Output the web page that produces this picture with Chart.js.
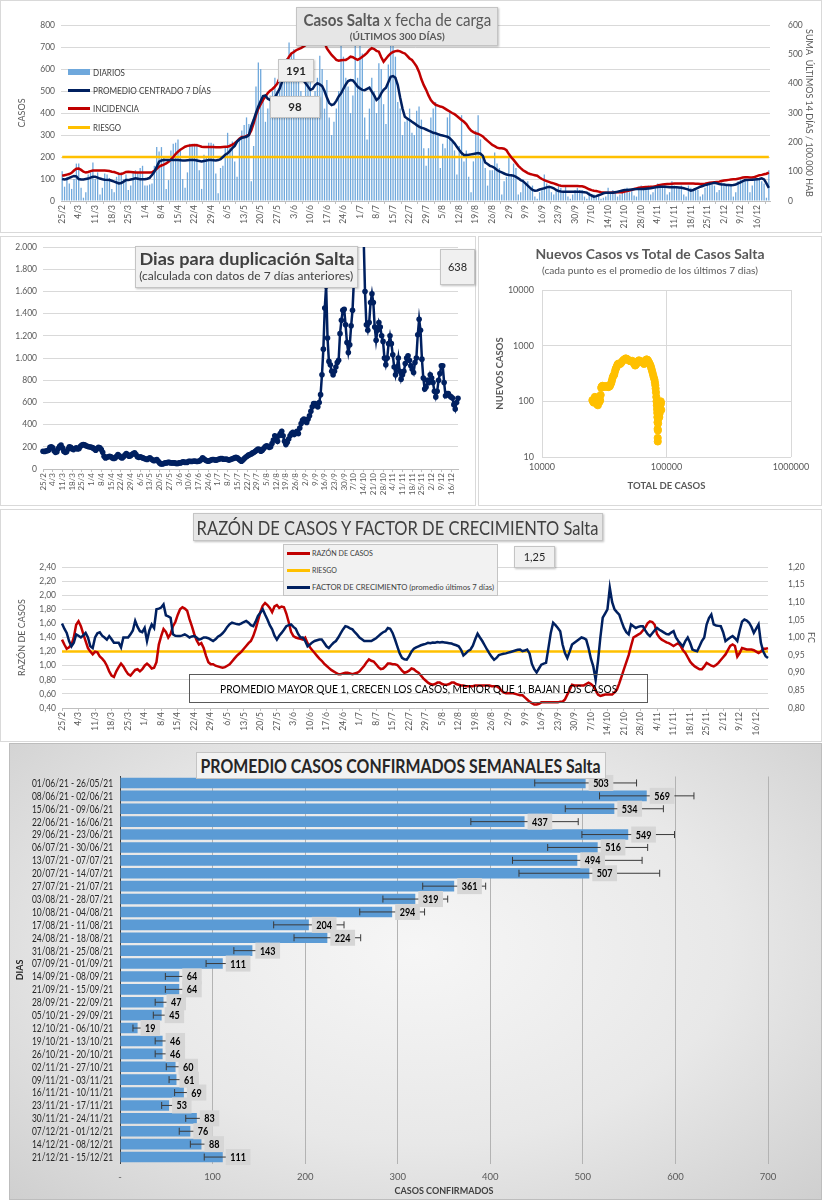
<!DOCTYPE html>
<html lang="es">
<head>
<meta charset="utf-8">
<title>Casos Salta</title>
<script src="https://cdn.jsdelivr.net/npm/chart.js@4.4.1/dist/chart.umd.min.js"></script>
<style>
  body { margin:0; width:822px; height:1200px; position:relative; overflow:hidden; background:#fff;
         font-family: Lato, 'Open Sans', sans-serif; color:#404040; }
  canvas, .marco, .caja, .fila, .nota { position:absolute; }
  .marco { box-sizing:border-box; border:1px solid #d9d9d9; }
  .caja { box-sizing:border-box; background:#eeeeee; border:1px solid #c4c4c4; box-shadow:1px 1px 2px rgba(0,0,0,.25);
          text-align:center; white-space:nowrap; }
  .centro { display:flex; justify-content:center; }
  .fit { display:inline-block; white-space:nowrap; transform-origin:center center; flex:none; }
  .fila { display:flex; align-items:center; height:12px; white-space:nowrap; }
  .fila .fit { transform-origin:left center; }
  .sim { display:inline-block; margin-right:3px; flex:none; }
  .nota { box-sizing:border-box; border:1px solid #595959; }
</style>
</head>
<body>

<div class="marco" style="left:0;top:0;width:822px;height:233px"></div>
<div class="marco" style="left:0;top:236px;width:476px;height:270px"></div>
<div class="marco" style="left:478px;top:236px;width:344px;height:270px"></div>
<div class="marco" style="left:0;top:509px;width:822px;height:233px"></div>
<div class="marco" style="left:9px;top:743px;width:813px;height:457px;border-color:#bdbdbd;
     background:radial-gradient(ellipse at 50% 45%, #f6f6f6 0%, #e8e8e8 55%, #cfcfcf 100%)"></div>

<canvas id="g1" style="left:0;top:0" width="822" height="233"></canvas>
<canvas id="g2" style="left:0;top:236px" width="476" height="270"></canvas>
<canvas id="g3" style="left:478px;top:236px" width="344" height="270"></canvas>
<canvas id="g4" style="left:0;top:509px" width="822" height="233"></canvas>
<canvas id="g5" style="left:0;top:742px" width="822" height="458"></canvas>

<!-- panel 1 -->
<div class="caja" style="left:296px;top:7px;width:202px;height:39px;background:#e6e6e6;color:#595959">
  <div class="centro" style="font-size:17px;line-height:21px;margin-top:1px"><span class="fit" data-w="188"><b>Casos Salta</b> x fecha de carga</span></div>
  <div class="centro" style="font-size:10px;line-height:12px;font-weight:bold"><span class="fit" data-w="95">(ÚLTIMOS 300 DÍAS)</span></div>
</div>
<div class="fila" style="left:68px;top:66px;font-size:9px"><span class="sim" style="width:22px;height:6px;background:#6FA8DC"></span><span class="fit" data-w="32">DIARIOS</span></div>
<div class="fila" style="left:68px;top:84px;font-size:9px"><span class="sim" style="width:22px;height:3px;background:#002060"></span><span class="fit" data-w="118">PROMEDIO CENTRADO 7 DÍAS</span></div>
<div class="fila" style="left:68px;top:102px;font-size:9px"><span class="sim" style="width:22px;height:3px;background:#C00000"></span><span class="fit" data-w="46">INCIDENCIA</span></div>
<div class="fila" style="left:68px;top:121px;font-size:9px"><span class="sim" style="width:22px;height:3px;background:#FFC000"></span><span class="fit" data-w="28">RIESGO</span></div>
<div class="caja" style="left:278px;top:59px;width:36px;height:23px;background:#f0f0f0;font-size:11.5px;line-height:21px;font-weight:bold;color:#262626">191</div>
<div class="caja" style="left:270px;top:96px;width:50px;height:22px;background:#f0f0f0;font-size:11.5px;line-height:20px;font-weight:bold;color:#262626">98</div>

<!-- panel 2 -->
<div class="caja" style="left:135px;top:246px;width:223px;height:42px;background:#f0f0f0">
  <div class="centro" style="font-size:17px;line-height:21px;font-weight:bold;margin-top:1px"><span class="fit" data-w="215">Dias para duplicación Salta</span></div>
  <div class="centro" style="font-size:11px;line-height:14px"><span class="fit" data-w="214">(calculada con datos de 7 días anteriores)</span></div>
</div>
<div class="caja" style="left:440px;top:249px;width:35px;height:36px;background:#f0f0f0;font-size:11px;line-height:34px;color:#262626">638</div>

<!-- panel 3 -->
<div style="position:absolute;left:478px;top:245px;width:344px;color:#595959">
  <div class="centro" style="font-size:14px;line-height:18px;font-weight:bold"><span class="fit" data-w="229">Nuevos Casos vs Total de Casos Salta</span></div>
  <div class="centro" style="font-size:10px;line-height:14px"><span class="fit" data-w="216">(cada punto es el promedio de los últimos 7 dias)</span></div>
</div>

<!-- panel 4 -->
<div class="caja" style="left:193px;top:513px;width:410px;height:28px;background:#e6e6e6;color:#404040">
  <div class="centro" style="font-size:20px;line-height:26px"><span class="fit" data-w="402">RAZÓN DE CASOS Y FACTOR DE CRECIMIENTO Salta</span></div>
</div>
<div class="caja" style="left:283px;top:544px;width:215px;height:52px;background:#f2f2f2;box-shadow:none"></div>
<div class="fila" style="left:287px;top:547px;font-size:8px"><span class="sim" style="width:23px;height:3px;background:#C00000;margin-right:2px"></span><span class="fit" data-w="61">RAZÓN DE CASOS</span></div>
<div class="fila" style="left:287px;top:564px;font-size:8px"><span class="sim" style="width:23px;height:3px;background:#FFC000;margin-right:2px"></span><span class="fit" data-w="25">RIESGO</span></div>
<div class="fila" style="left:287px;top:581px;font-size:8px"><span class="sim" style="width:23px;height:3px;background:#002060;margin-right:2px"></span><span class="fit" data-w="182">FACTOR DE CRECIMIENTO (promedio últimos 7 días)</span></div>
<div class="caja" style="left:514px;top:546px;width:41px;height:22px;background:#f0f0f0;font-size:11px;line-height:20px;color:#262626">1,25</div>
<div class="nota centro" style="left:189px;top:674px;width:459px;height:29px;font-size:11.5px;line-height:27px;color:#000">
  <span class="fit" data-w="397">PROMEDIO MAYOR QUE 1, CRECEN LOS CASOS, MENOR QUE 1, BAJAN LOS CASOS</span>
</div>

<!-- panel 5 -->
<div class="caja" style="left:196px;top:752px;width:410px;height:27px;background:#f2f2f2;color:#262626;box-shadow:none">
  <div class="centro" style="font-size:19px;line-height:25px;font-weight:bold"><span class="fit" data-w="400">PROMEDIO CASOS CONFIRMADOS SEMANALES Salta</span></div>
</div>

<script>
// etiquetas semanales del eje x (25/2 a 16/12)
const semanas = ['25/2','4/3','11/3','18/3','25/3','1/4','8/4','15/4','22/4','29/4','6/5','13/5','20/5','27/5',
  '3/6','10/6','17/6','24/6','1/7','8/7','15/7','22/7','29/7','5/8','12/8','19/8','26/8','2/9','9/9','16/9',
  '23/9','30/9','7/10','14/10','21/10','28/10','4/11','11/11','18/11','25/11','2/12','9/12','16/12'];

// casos diarios (una fila por semana)
const diarios = [
  135,65,110,80,55,100,170,  170,60,15,40,120,130,175,  100,130,30,60,125,120,105,  55,40,110,120,130,100,120,
  50,70,130,140,130,150,160,  70,70,75,80,160,245,225,  245,200,55,95,230,260,265,  280,230,100,60,130,260,260,
  250,260,140,55,210,200,265,  265,260,125,35,150,160,250,  310,260,270,180,110,280,320,  345,380,350,90,250,520,630,
  600,470,360,420,480,500,560,  500,560,620,580,650,720,671,  690,560,620,500,430,560,600,  540,430,500,560,660,600,420,
  550,380,300,360,420,500,709,  656,560,520,400,480,709,560,  709,671,380,280,420,560,500,  400,626,600,440,350,620,717,
  709,656,450,420,300,360,380,  420,310,300,410,430,370,240,  160,240,380,420,450,300,150,  260,240,380,410,270,230,120,
  250,390,180,230,110,40,180,  320,390,280,210,150,70,140,  140,220,170,150,30,90,110,  200,120,170,150,30,40,100,
  80,90,60,70,20,10,40,  60,120,80,60,40,30,50,  70,60,40,70,20,10,30,  50,60,50,50,20,10,40,
  20,30,20,20,10,15,20,  60,40,50,40,20,30,40,  55,60,40,50,25,20,60,  70,50,60,70,30,40,65,
  80,60,70,70,30,40,90,  70,60,60,70,30,20,70,  60,50,50,50,20,30,60,  85,85,75,70,40,50,85,
  80,70,70,70,20,40,90,  100,95,100,90,40,70,100,  95,100,90,80,15,140];

// promedio centrado 7 días
const promedio = [
  100,98,100,105,110,114,112,  100,98,98,100,102,106,110,  110,106,102,99,97,96,95,  92,88,84,80,82,88,95,
  95,98,100,103,101,99,99,  99,101,105,118,133,155,179,  184,186,186,186,186,186,186,  186,185,184,184,185,186,186,
  186,184,182,180,182,184,186,  186,185,184,186,190,200,210,  217,228,240,250,270,280,287,  290,292,300,340,368,400,430,
  455,477,480,465,459,460,470,  490,510,540,570,600,615,620,  615,600,585,565,550,535,520,  505,510,527,535,530,522,500,
  470,445,436,440,455,475,489,  510,530,545,550,548,535,520,  512,505,504,510,515,497,480,  459,468,489,505,515,540,565,
  568,560,527,470,420,383,375,  368,360,353,345,338,333,330,  325,320,315,310,308,304,300,  298,295,292,285,275,262,247,
  232,218,209,209,210,212,214,  216,218,215,205,175,168,160,  156,150,141,135,130,125,120,  118,117,115,110,103,95,90,
  80,70,60,50,47,48,52,  55,58,62,65,62,58,50,  45,43,42,42,42,42,42,  42,42,42,41,40,38,30,
  25,20,22,26,30,35,37,  38,38,38,40,42,45,48,  50,50,51,52,53,54,55,  55,55,56,57,58,60,62,
  64,65,65,65,64,63,62,  62,62,61,60,58,55,52,  47,50,55,60,65,68,72,  75,78,80,83,80,77,75,
  75,73,73,72,73,75,80,  85,90,95,95,96,97,98,  99,100,103,98,80,60];

// incidencia: suma últimos 14 días / 100.000 hab (eje derecho)
const incidencia = [
  86,88,90,92,96,104,110,  111,106,100,97,99,102,104,  104,104,104,104,104,103,102,  100,99,96,93,92,95,99,
  100,99,98,97,97,97,97,  97,97,97,98,103,110,117,  121,124,128,134,141,150,160,  168,175,180,185,188,189,190,
  191,190,188,185,184,184,184,  184,184,183,183,183,184,185,  185,188,192,197,204,212,218,  218,222,225,240,265,293,315,
  330,345,356,368,376,382,390,  400,420,440,460,478,492,503,  508,514,518,521,526,532,540,  555,570,580,585,580,565,540,
  520,509,498,490,481,478,480,  481,481,486,492,490,485,481,  486,492,498,505,515,521,518,  512,509,490,475,485,495,503,
  508,511,512,510,506,503,495,  486,481,470,458,440,415,395,  379,360,344,335,328,325,322,  320,315,310,305,300,296,290,
  283,276,270,262,250,240,235,  231,229,225,220,212,205,198,  191,187,182,180,180,178,173,  160,149,140,130,120,112,105,
  100,95,92,90,88,86,80,  75,71,68,65,62,60,57,  54,52,51,51,51,51,51,  51,51,50,50,48,44,40,
  37,35,34,32,30,29,28,  28,28,29,30,30,30,30,  32,34,36,38,41,43,45,  46,47,48,48,49,49,50,
  53,55,56,57,58,58,59,  60,60,60,60,60,60,60,  60,60,59,59,58,58,59,  61,62,63,64,65,66,68,
  70,71,72,73,74,74,76,  78,80,81,81,80,80,82,  85,88,89,91,93,97];

const riesgoCasos = 200;

// días para duplicación
const duplicacion = [
  160,158,162,165,170,195,200,190,165,150,  155,185,205,215,190,160,150,155,180,200,
  195,180,175,185,190,180,185,205,215,220,  218,210,205,200,198,195,190,180,170,185,
  195,190,175,150,115,100,105,110,115,110,  100,95,100,115,130,120,105,100,110,125,
  140,130,115,120,130,140,145,130,110,105,  110,105,100,95,90,85,95,100,90,80,
  75,80,85,70,55,45,45,50,55,55,  60,60,55,55,55,55,50,50,55,55,
  60,65,60,60,60,70,70,68,70,72,  70,68,70,75,85,100,90,80,75,70,
  75,80,85,85,80,80,85,90,95,95,  88,88,90,85,80,85,90,95,100,105,
  100,90,78,70,80,95,105,115,125,130,  135,145,150,160,170,180,175,160,170,185,
  200,210,205,195,200,230,260,300,280,250,  300,320,340,300,250,220,240,270,300,320,
  330,310,325,340,320,370,410,440,450,430,  420,450,480,520,560,590,590,570,560,600,
  670,850,1080,1450,1650,1180,970,940,880,850,  880,920,960,980,1220,1340,1430,1440,1300,1140,
  1050,1120,1290,1430,1700,2100,2600,3000,2800,2500,  2300,2100,1600,1300,1250,1320,1500,1580,1500,1280,
  1160,1250,1320,1280,1200,1150,1000,940,1000,1130,  1200,1130,1030,920,850,920,1000,880,810,850,
  880,950,1000,1020,980,930,900,870,960,1000,  1210,1350,1250,990,820,720,740,800,780,850,
  820,780,700,650,700,800,860,930,930,780,  660,680,680,660,650,640,580,540,600,638];

// nuevos casos vs total (promedio últimos 7 días)
const totalCasos = [
  25400,25700,26000,26300,26600,26900,27200,27500,27800,28100,28400,28700,29000,29300,29600,29900,
  30200,30600,31000,31500,32000,32500,33000,33500,34000,34500,35000,35500,36000,36500,37000,37500,
  38000,38500,39000,39500,40000,40500,41000,41700,42400,43200,44000,45000,46000,47000,48000,49000,
  50000,51000,52000,53000,54000,55000,56000,57000,58000,59000,60000,61000,62000,63000,64000,65000,
  66000,67000,68000,69000,70000,71000,72000,73000,74000,75000,76000,77000,78000,79000,80000,80700,
  81300,81800,82300,82800,83200,83600,84000,84300,84500,84700,84850,85000,85100,85300,85600,85900,
  86300,86700,87100,87500,87900,88300,88700,89100,89500,89900,90300,90700];
const nuevosCasos = [
  105,100,95,110,120,115,100,92,88,85,95,102,98,105,130,175,
  185,190,185,185,182,185,188,186,180,184,186,200,215,240,270,290,
  300,340,380,400,430,460,475,470,470,490,520,550,570,590,580,560,
  540,530,520,535,510,470,440,460,490,520,545,530,510,505,520,500,
  470,500,540,565,560,540,510,480,450,415,375,335,300,270,245,220,
  195,170,145,120,100,85,72,62,52,42,32,22,19,30,40,48,
  55,62,58,52,60,70,78,85,95,100,92,70];
const ejeTotal = [10000, 100000, 1000000];
const ejeNuevos = [10, 100, 1000, 10000];

// razón de casos (eje izq.) y factor de crecimiento (eje der.)
const razon = [
  1.37,1.30,1.24,1.26,1.30,1.40,1.58,1.63,1.56,1.45,  1.35,1.25,1.20,1.16,1.20,1.19,1.13,1.10,1.06,1.00,
  0.92,0.86,0.84,0.92,0.98,1.03,0.99,0.93,0.88,0.86,  0.90,0.94,0.95,0.92,0.95,1.00,1.03,1.00,0.96,0.97,
  1.05,1.30,1.42,1.52,1.48,1.40,1.45,1.56,1.62,1.72,  1.80,1.83,1.81,1.78,1.66,1.56,1.45,1.36,1.30,1.32,
  1.25,1.14,1.05,1.02,1.02,1.00,0.99,0.98,0.97,0.98,  1.00,1.02,1.06,1.10,1.14,1.17,1.20,1.24,1.28,1.32,
  1.35,1.42,1.52,1.64,1.76,1.85,1.89,1.86,1.82,1.76,  1.84,1.86,1.82,1.84,1.83,1.74,1.62,1.48,1.42,1.40,
  1.39,1.38,1.37,1.40,1.32,1.26,1.22,1.18,1.14,1.10,  1.07,1.03,1.00,0.97,0.94,0.92,0.90,0.88,0.88,0.89,
  0.90,0.90,0.89,0.88,0.89,0.90,0.92,0.96,1.00,1.05,  1.09,1.07,1.06,1.02,0.98,0.95,0.96,0.99,1.03,1.03,
  1.02,1.02,1.01,0.97,0.93,0.90,0.91,0.93,0.96,0.95,  0.92,0.90,0.86,0.82,0.79,0.76,0.74,0.73,0.74,0.76,
  0.76,0.74,0.73,0.73,0.74,0.76,0.76,0.74,0.73,0.72,  0.72,0.71,0.71,0.71,0.71,0.72,0.72,0.72,0.72,0.72,
  0.72,0.72,0.71,0.71,0.71,0.69,0.65,0.62,0.61,0.61,  0.61,0.61,0.60,0.59,0.58,0.58,0.55,0.52,0.49,0.47,
  0.45,0.45,0.46,0.48,0.48,0.48,0.48,0.48,0.48,0.48,  0.48,0.49,0.49,0.52,0.59,0.66,0.73,0.72,0.72,0.72,
  0.72,0.72,0.74,0.76,0.74,0.71,0.65,0.59,0.57,0.58,  0.59,0.59,0.59,0.59,0.62,0.66,0.75,0.85,0.95,1.05,
  1.15,1.28,1.40,1.42,1.44,1.46,1.50,1.54,1.60,1.63,  1.62,1.58,1.45,1.40,1.37,1.35,1.33,1.32,1.30,1.28,
  1.30,1.32,1.28,1.22,1.18,1.12,1.06,1.02,0.99,0.97,  0.95,0.95,0.99,1.04,1.02,1.00,0.99,1.01,1.04,1.08,
  1.12,1.16,1.22,1.28,1.30,1.28,1.13,1.18,1.25,1.24,  1.23,1.23,1.23,1.22,1.20,1.18,1.20,1.24,1.24,1.25];
const factor = [
  1.040,1.025,1.013,0.990,0.975,0.985,1.009,1.005,1.000,1.006,  1.013,1.000,0.975,0.970,1.000,1.012,1.015,1.005,1.000,0.994,
  1.004,0.995,0.985,0.985,0.985,0.972,1.000,1.000,1.000,1.009,  1.020,1.047,1.030,1.018,1.015,1.027,0.990,1.020,1.037,1.027,
  1.080,1.082,1.085,1.094,1.063,1.060,1.056,1.009,1.005,1.004,  1.004,1.006,1.009,1.005,1.000,1.003,1.004,1.000,0.994,0.996,
  1.000,1.000,0.998,0.994,0.990,0.995,1.002,1.006,1.012,1.020,  1.030,1.038,1.042,1.040,1.038,1.037,1.040,1.044,1.047,1.042,
  1.035,1.032,1.045,1.061,1.070,1.080,1.065,1.051,1.035,1.023,  1.005,0.994,1.005,1.013,1.022,1.032,1.035,1.037,1.030,1.025,
  1.010,1.000,1.000,0.990,0.975,0.980,0.986,0.990,0.992,0.994,  0.994,0.985,0.975,0.970,0.978,0.985,0.990,1.000,1.012,1.023,
  1.032,1.030,1.026,1.023,1.015,1.008,1.000,0.995,0.990,0.990,  0.990,0.990,0.994,0.998,1.004,1.010,1.015,1.018,1.027,1.025,
  1.013,0.995,0.975,0.955,0.942,0.938,0.937,0.947,0.960,0.968,  0.972,0.975,0.978,0.980,0.982,0.985,0.984,0.986,0.985,0.987,
  0.986,0.987,0.986,0.985,0.984,0.983,0.980,0.978,0.975,0.965,  0.949,0.955,0.962,0.966,0.977,0.995,1.011,1.000,0.990,0.978,
  0.966,0.955,0.945,0.937,0.942,0.950,0.952,0.954,0.955,0.957,  0.959,0.961,0.963,0.965,0.966,0.961,0.963,0.966,0.955,0.925,
  0.910,0.901,0.912,0.923,0.926,0.928,0.970,1.013,1.042,1.035,  1.027,1.018,0.980,0.956,0.942,0.960,0.980,0.985,0.990,0.995,
  1.000,0.998,0.994,0.970,0.940,0.918,0.880,0.933,1.000,1.056,  1.068,1.080,1.141,1.100,1.080,1.072,1.065,1.045,1.027,1.015,
  1.009,1.037,1.032,1.027,1.030,1.032,1.032,1.020,1.010,1.004,  1.012,1.020,1.027,1.022,1.018,1.014,1.010,1.009,1.014,1.018,
  1.000,0.990,0.982,0.975,0.990,1.000,0.985,0.966,0.963,0.961,  0.975,0.990,1.000,1.037,1.055,1.065,1.037,1.034,1.033,1.032,
  1.015,0.990,0.995,1.000,1.004,0.998,0.990,1.020,1.045,1.051,  1.048,1.042,1.030,1.013,1.025,1.037,0.985,0.960,0.947,0.942];
const riesgoRazon = 1.2;

// promedio semanal de casos confirmados
const rangos = ['01/06/21 - 26/05/21','08/06/21 - 02/06/21','15/06/21 - 09/06/21','22/06/21 - 16/06/21',
  '29/06/21 - 23/06/21','06/07/21 - 30/06/21','13/07/21 - 07/07/21','20/07/21 - 14/07/21','27/07/21 - 21/07/21',
  '03/08/21 - 28/07/21','10/08/21 - 04/08/21','17/08/21 - 11/08/21','24/08/21 - 18/08/21','31/08/21 - 25/08/21',
  '07/09/21 - 01/09/21','14/09/21 - 08/09/21','21/09/21 - 15/09/21','28/09/21 - 22/09/21','05/10/21 - 29/09/21',
  '12/10/21 - 06/10/21','19/10/21 - 13/10/21','26/10/21 - 20/10/21','02/11/21 - 27/10/21','09/11/21 - 03/11/21',
  '16/11/21 - 10/11/21','23/11/21 - 17/11/21','30/11/21 - 24/11/21','07/12/21 - 01/12/21','14/12/21 - 08/12/21',
  '21/12/21 - 15/12/21'];
const promedioSemanal = [503,569,534,437,549,516,494,507,361,319,294,204,224,143,111,64,64,47,45,19,46,46,60,61,69,53,83,76,88,111];
const errorSemanal = [55,51,53,58,50,54,70,76,34,35,35,38,36,20,18,15,15,9,9,5,8,8,10,8,10,8,12,12,12,20];

const LATO = 'Lato, "Open Sans", sans-serif';
Chart.defaults.font.family = LATO;
Chart.defaults.color = '#595959';
Chart.defaults.animation = false;
Chart.defaults.plugins.legend.display = false;
Chart.defaults.plugins.tooltip.enabled = false;

const ancho = w => s => { s.width = w; };
const alto = h => s => { s.height = h; };
const coma = v => v.toFixed(2).replace('.', ',');
const miles = v => String(v).replace(/\B(?=(\d{3})+(?!\d))/g, '.');

function ejeSemanas(h, size) {
  return {
    type: 'category',
    afterFit: alto(h),
    grid: { drawOnChartArea: false, color: '#bfbfbf', tickLength: 3 },
    border: { color: '#bfbfbf' },
    ticks: { autoSkip: false, minRotation: 90, maxRotation: 90, padding: 1, font: { size },
             callback: (v, i) => i % 7 === 0 ? semanas[i / 7] : null }
  };
}

// --- Casos Salta x fecha de carga
new Chart(document.getElementById('g1'), {
  data: {
    labels: diarios.map((_, i) => i),
    datasets: [
      { type: 'line', data: promedio, borderColor: '#002060', borderWidth: 2.5, pointRadius: 0, yAxisID: 'y', order: 1 },
      { type: 'line', data: incidencia, borderColor: '#C00000', borderWidth: 2.5, pointRadius: 0, yAxisID: 'y2', order: 2 },
      { type: 'line', data: diarios.map(() => riesgoCasos), borderColor: '#FFC000', borderWidth: 2.5, pointRadius: 0, yAxisID: 'y', order: 3 },
      { type: 'bar', data: diarios, backgroundColor: '#6FA8DC', barPercentage: 0.55, categoryPercentage: 1, yAxisID: 'y', order: 4 }
    ]
  },
  options: {
    responsive: false,
    layout: { padding: { top: 25 } },
    scales: {
      x: ejeSemanas(32, 8.5),
      y: { position: 'left', min: 0, max: 800, afterFit: ancho(61),
           ticks: { stepSize: 100, padding: 6, font: { size: 8.5 } },
           grid: { color: '#d9d9d9', drawTicks: false }, border: { display: false },
           title: { display: true, text: 'CASOS', font: { size: 9 }, padding: { top: 17 } } },
      y2: { position: 'right', min: 0, max: 600, afterFit: ancho(52),
            ticks: { stepSize: 100, padding: 10, font: { size: 8.5 } },
            grid: { display: false }, border: { display: false },
            title: { display: true, text: 'SUMA  ÚLTIMOS 14 DÍAS / 100.000 HAB', font: { size: 9 }, padding: { top: 8 } } }
    }
  }
});

// --- Dias para duplicación
new Chart(document.getElementById('g2'), {
  type: 'line',
  data: {
    labels: duplicacion.map((_, i) => i),
    datasets: [{ data: duplicacion, borderColor: '#002060', backgroundColor: '#002060', borderWidth: 2.5,
                 pointRadius: 2.8, pointBorderWidth: 0 }]
  },
  options: {
    responsive: false,
    layout: { padding: { top: 11, right: 18 } },
    scales: {
      x: ejeSemanas(37, 8),
      y: { min: 0, max: 2000, afterFit: ancho(43),
           ticks: { stepSize: 200, padding: 6, font: { size: 8.5 }, callback: miles },
           grid: { color: '#d9d9d9', drawTicks: false }, border: { display: false } }
    }
  }
});

// --- Nuevos casos vs total
new Chart(document.getElementById('g3'), {
  type: 'scatter',
  data: {
    datasets: [{ data: totalCasos.map((t, i) => ({ x: t, y: nuevosCasos[i] })),
                 backgroundColor: '#FFC000', borderColor: '#FFC000', pointRadius: 3.6 }]
  },
  options: {
    responsive: false,
    layout: { padding: { top: 54, right: 31 } },
    scales: {
      x: { type: 'logarithmic', min: 10000, max: 1000000, afterFit: alto(49),
           afterBuildTicks: s => { s.ticks = ejeTotal.map(v => ({ value: v })); },
           ticks: { padding: 5, font: { size: 9 }, callback: v => String(v) },
           grid: { color: '#d9d9d9', drawTicks: false }, border: { display: false },
           title: { display: true, text: 'TOTAL DE CASOS', font: { size: 9.5, weight: 'bold' }, padding: { bottom: 14 } } },
      y: { type: 'logarithmic', min: 10, max: 10000, afterFit: ancho(64),
           afterBuildTicks: s => { s.ticks = ejeNuevos.map(v => ({ value: v })); },
           ticks: { padding: 8, font: { size: 9 }, callback: v => String(v) },
           grid: { color: '#d9d9d9', drawTicks: false }, border: { display: false },
           title: { display: true, text: 'NUEVOS CASOS', font: { size: 9.5, weight: 'bold' }, padding: { top: 16 } } }
    }
  }
});

// --- Razón de casos y factor de crecimiento
new Chart(document.getElementById('g4'), {
  type: 'line',
  data: {
    labels: razon.map((_, i) => i),
    datasets: [
      { data: factor, borderColor: '#002060', borderWidth: 2.5, pointRadius: 0, yAxisID: 'y2', order: 1 },
      { data: razon, borderColor: '#C00000', borderWidth: 2.5, pointRadius: 0, yAxisID: 'y', order: 2 },
      { data: razon.map(() => riesgoRazon), borderColor: '#FFC000', borderWidth: 2.5, pointRadius: 0, yAxisID: 'y', order: 3 }
    ]
  },
  options: {
    responsive: false,
    layout: { padding: { top: 58 } },
    scales: {
      x: ejeSemanas(34, 8.5),
      y: { position: 'left', min: 0.4, max: 2.4, afterFit: ancho(62),
           ticks: { stepSize: 0.2, padding: 6, font: { size: 8.5 }, callback: coma },
           grid: { color: '#d9d9d9', drawTicks: false }, border: { display: false },
           title: { display: true, text: 'RAZÓN DE CASOS', font: { size: 9 }, padding: { top: 17 } } },
      y2: { position: 'right', min: 0.8, max: 1.2, afterFit: ancho(54),
            ticks: { stepSize: 0.05, padding: 12, font: { size: 8.5 }, callback: coma },
            grid: { display: false }, border: { display: false },
            title: { display: true, text: 'FC', font: { size: 9 }, padding: { top: 6 } } }
    }
  }
});

// --- Promedio casos confirmados semanales
// etiquetas de categoría estrechas, barras de error y rótulos de valor
const barrasError = {
  id: 'barrasError',
  afterDatasetsDraw(chart) {
    const { ctx, scales: { x, y } } = chart;
    const meta = chart.getDatasetMeta(0);
    ctx.save();
    ctx.textBaseline = 'middle';
    ctx.font = '10.5px ' + LATO;
    ctx.fillStyle = '#262626';
    ctx.textAlign = 'right';
    rangos.forEach((r, i) => {
      ctx.save();
      ctx.translate(y.right - 7, y.getPixelForValue(i) + 0.5);
      ctx.scale(0.8, 1);
      ctx.fillText(r, 0, 0);
      ctx.restore();
    });
    ctx.font = 'bold 11px ' + LATO;
    ctx.textAlign = 'center';
    meta.data.forEach((bar, i) => {
      const v = promedioSemanal[i], e = errorSemanal[i], yy = bar.y;
      const x1 = x.getPixelForValue(v - e), x2 = x.getPixelForValue(v + e);
      ctx.strokeStyle = '#3a3a3a';
      ctx.lineWidth = 1;
      ctx.beginPath();
      ctx.moveTo(x1, yy); ctx.lineTo(x2, yy);
      ctx.moveTo(x1, yy - 3.5); ctx.lineTo(x1, yy + 3.5);
      ctx.moveTo(x2, yy - 3.5); ctx.lineTo(x2, yy + 3.5);
      ctx.stroke();
      const txt = String(v);
      const w = ctx.measureText(txt).width * 0.82 + 9;
      ctx.fillStyle = '#d6d6d6';
      ctx.fillRect(bar.x + 3, yy - 8, w, 16);
      ctx.fillStyle = '#000';
      ctx.save();
      ctx.translate(bar.x + 3 + w / 2, yy + 0.5);
      ctx.scale(0.82, 1);
      ctx.fillText(txt, 0, 0);
      ctx.restore();
    });
    ctx.restore();
  }
};

new Chart(document.getElementById('g5'), {
  type: 'bar',
  data: {
    labels: rangos,
    datasets: [{ data: promedioSemanal, backgroundColor: '#5B9BD5', barPercentage: 0.82, categoryPercentage: 1 }]
  },
  options: {
    responsive: false,
    indexAxis: 'y',
    layout: { padding: { top: 34.5, right: 54 } },
    scales: {
      x: { min: 0, max: 700, afterFit: alto(36.5),
           ticks: { stepSize: 100, padding: 8, font: { size: 9.5 }, callback: v => v === 0 ? '-' : v },
           grid: { color: '#b3b3b3', drawTicks: false }, border: { display: false },
           title: { display: true, text: 'CASOS CONFIRMADOS', font: { size: 9, weight: 'bold' }, color: '#404040', padding: { bottom: 4 } } },
      y: { afterFit: ancho(120),
           ticks: { display: false },
           grid: { display: false }, border: { color: '#404040' },
           title: { display: true, text: 'DIAS', font: { size: 9, weight: 'bold' }, color: '#262626', padding: { top: 15 } } }
    }
  },
  plugins: [barrasError]
});

// ajusta el ancho de los textos al de la imagen
document.querySelectorAll('.fit').forEach(el => {
  const f = Number(el.dataset.w) / el.getBoundingClientRect().width;
  el.style.transform = 'scaleX(' + f.toFixed(3) + ')';
});
</script>
</body>
</html>
